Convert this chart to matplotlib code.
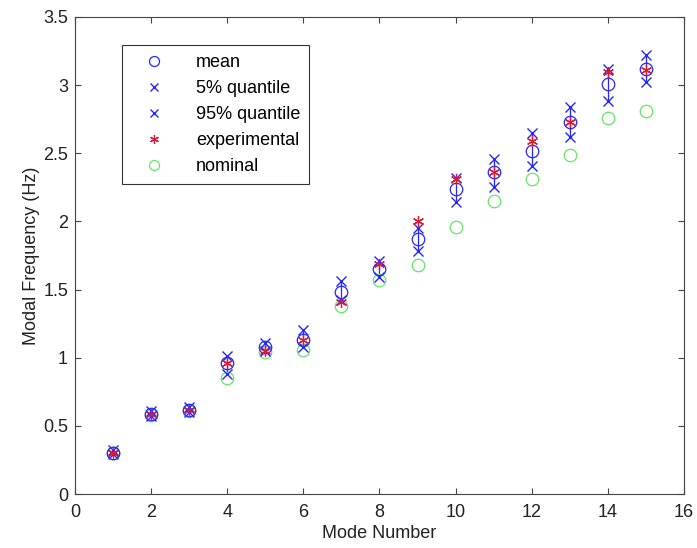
import matplotlib
matplotlib.use("Agg")
import matplotlib.pyplot as plt
import numpy as np

plt.rcParams['font.family'] = ['Liberation Sans', 'DejaVu Sans']

modes = [1, 2, 3, 4, 5, 6, 7, 8, 9, 10, 11, 12, 13, 14, 15]
mean_f = [0.30, 0.59, 0.62, 0.96, 1.08, 1.13, 1.48, 1.65, 1.87, 2.24, 2.36, 2.52, 2.73, 3.01, 3.12]
q05 = [0.29, 0.57, 0.60, 0.88, 1.05, 1.08, 1.42, 1.59, 1.78, 2.14, 2.25, 2.41, 2.62, 2.88, 3.02]
q95 = [0.32, 0.61, 0.64, 1.01, 1.11, 1.20, 1.56, 1.71, 1.95, 2.32, 2.46, 2.65, 2.84, 3.12, 3.22]
experimental = [0.30, 0.59, 0.62, 0.96, 1.05, 1.13, 1.41, 1.69, 2.00, 2.31, 2.36, 2.59, 2.73, 3.10, 3.11]
nominal = [0.30, 0.58, 0.61, 0.85, 1.04, 1.06, 1.38, 1.57, 1.68, 1.96, 2.15, 2.31, 2.49, 2.76, 2.81]

xticks = [0, 2, 4, 6, 8, 10, 12, 14, 16]
yticks = [0, 0.5, 1, 1.5, 2, 2.5, 3, 3.5]
ytick_labels = ['0', '0.5', '1', '1.5', '2', '2.5', '3', '3.5']

fig = plt.figure(figsize=(6.97, 5.48), dpi=100)
ax = fig.add_axes([0.1076, 0.0985, 0.8737, 0.8705])

blue = (0.15, 0.15, 1.0)
red = (0.85, 0.1, 0.2)
green = (0.4, 0.9, 0.4)

# vertical range lines
ax.vlines(modes, q05, q95, color=blue, lw=0.9, zorder=2)
ax.plot(modes, nominal, 'o', ms=9, mfc='none', mec=green, mew=0.9, label='nominal', zorder=3)
ax.plot(modes, mean_f, 'o', ms=9, mfc='none', mec=blue, mew=0.9, label='mean', zorder=4)
ax.plot(modes, q05, 'x', ms=7, color=blue, mew=1.0, label='5% quantile', zorder=4)
ax.plot(modes, q95, 'x', ms=7, color=blue, mew=1.0, label='95% quantile', zorder=4)
ax.plot(modes, experimental, marker=(6, 2, 0), ls='none', ms=8, color=red, mew=0.9,
        label='experimental', zorder=5)

ax.set_xlim(0, 16)
ax.set_ylim(0, 3.5)
ax.set_xticks(xticks)
ax.set_yticks(yticks)
ax.set_yticklabels(ytick_labels)
ax.tick_params(direction='in', top=True, right=True, labelsize=13, length=4,
               color='#444444', labelcolor='#222222', pad=5)
ax.tick_params(axis='x', pad=7)
for s in ax.spines.values():
    s.set_color('#444444')
    s.set_linewidth(0.8)

ax.set_xlabel('Mode Number', fontsize=13, color='#222222', labelpad=3)
ax.set_ylabel('Modal Frequency (Hz)', fontsize=13, color='#222222', labelpad=2)

handles, labels = ax.get_legend_handles_labels()
order = ['mean', '5% quantile', '95% quantile', 'experimental', 'nominal']
hmap = dict(zip(labels, handles))
leg = ax.legend([hmap[k] for k in order], order, loc='upper left',
                bbox_to_anchor=(0.077, 0.941), borderaxespad=0, fontsize=13, frameon=True,
                fancybox=False, edgecolor='#333333', framealpha=1,
                handlelength=2.6, handletextpad=1.0, borderpad=0.5,
                labelspacing=0.5, markerscale=0.8)
leg.get_frame().set_linewidth(0.8)

fig.savefig('out.png', dpi=100)
